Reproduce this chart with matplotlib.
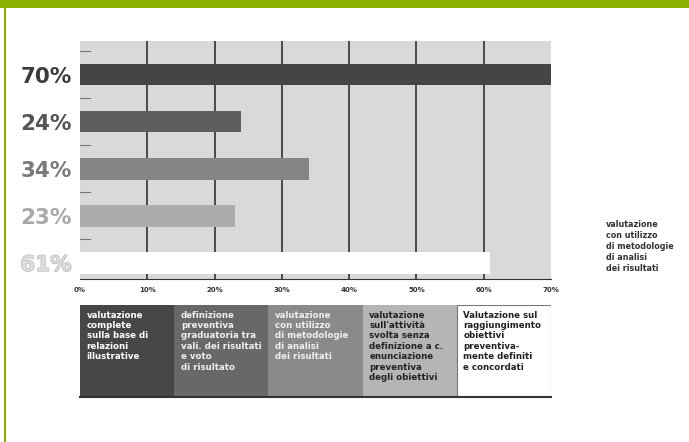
import matplotlib
matplotlib.use("Agg")
import matplotlib.pyplot as plt
from matplotlib.patches import Rectangle
import matplotlib.patheffects as pe

values = [70, 24, 34, 23, 61]
labels = ["70%", "24%", "34%", "23%", "61%"]
bar_colors = ["#454545", "#5e5e5e", "#858585", "#ababab", "#ffffff"]
label_colors = ["#3c3c3c", "#555555", "#7a7a7a", "#a8a8a8", "#dcdcdc"]
xticks = [0, 10, 20, 30, 40, 50, 60, 70]
xtick_labels = ["0%", "10%", "20%", "30%", "40%", "50%", "60%", "70%"]
box_texts = [
    "valutazione\ncomplete\nsulla base di\nrelazioni\nillustrative",
    "definizione\npreventiva\ngraduatoria tra\nvali. dei risultati\ne voto\ndi risultato",
    "valutazione\ncon utilizzo\ndi metodologie\ndi analisi\ndei risultati",
    "valutazione\nsull'attività\nsvolta senza\ndefinizione a c.\nenunciazione\npreventiva\ndegli obiettivi",
    "Valutazione sul\nraggiungimento\nobiettivi\npreventiva-\nmente definiti\ne concordati",
]
box_colors = ["#474747", "#686868", "#8a8a8a", "#b5b5b5", "#ffffff"]
box_text_colors = ["#ffffff", "#f0f0f0", "#f0f0f0", "#222222", "#222222"]
side_text = "valutazione\ncon utilizzo\ndi metodologie\ndi analisi\ndei risultati"

W, H = 689, 442
fig = plt.figure(figsize=(W / 100, H / 100), dpi=100)
fig.patch.set_facecolor("white")

# top green band and left green line
fig.add_artist(Rectangle((0, 1 - 8 / H), 1, 8 / H, transform=fig.transFigure,
                         facecolor="#8ab000", edgecolor="none"))
fig.add_artist(Rectangle((4 / W, 0), 1.5 / W, 1, transform=fig.transFigure,
                         facecolor="#8ab000", edgecolor="none"))

# main axes
x0, x1 = 80, 551
y_top, y_bot = 41, 279
ax = fig.add_axes([x0 / W, 1 - y_bot / H, (x1 - x0) / W, (y_bot - y_top) / H])
ax.set_facecolor("#d9d9d9")
pos = list(range(len(values)))
ax.barh(pos, values, height=0.45, color=bar_colors, edgecolor="none", zorder=3)
ax.set_xlim(0, 70)
ax.set_ylim(4.34, -0.72)
for x in xticks[1:-1]:
    ax.axvline(x, color="#4a4a4a", lw=1.4, zorder=2)
ax.set_xticks(xticks)
ax.set_xticklabels(xtick_labels, fontsize=5, color="#333333", fontweight="bold")
ax.set_yticks(pos)
ax.set_yticklabels(labels, fontsize=15.5, fontweight="heavy")
for t, c in zip(ax.get_yticklabels(), label_colors):
    t.set_color(c)
ax.get_yticklabels()[-1].set_path_effects([pe.withStroke(linewidth=0.8, foreground="#b0b0b0")])
ax.tick_params(axis="y", length=0, pad=6)
ax.tick_params(axis="x", length=0, pad=6)
for s in ax.spines.values():
    s.set_visible(False)
ax.spines["bottom"].set_visible(True)
ax.spines["bottom"].set_color("#333333")
ax.spines["bottom"].set_linewidth(0.8)
# small marks between bars
for p in pos:
    ax.plot([0, 1.5], [p - 0.5, p - 0.5], color="#777777", lw=0.8, zorder=2)

# boxes below
by_top, by_bot = 305, 397
bax = fig.add_axes([x0 / W, 1 - by_bot / H, (x1 - x0) / W, (by_bot - by_top) / H])
bax.set_xlim(0, len(box_texts))
bax.set_ylim(0, 1)
bax.axis("off")
for i, (txt, fc, tc) in enumerate(zip(box_texts, box_colors, box_text_colors)):
    bax.add_patch(Rectangle((i, 0), 1, 1, facecolor=fc,
                            edgecolor="#777777" if fc == "#ffffff" else fc, lw=0.8))
    bax.text(i + 0.07, 0.94, txt, ha="left", va="top", fontsize=6.2,
             color=tc, fontweight="bold", linespacing=1.2)
bax.plot([0, len(box_texts)], [0, 0], color="#333333", lw=1.5, clip_on=False)

fig.text(606 / W, 1 - 220 / H, side_text, ha="left", va="top", fontsize=5.8,
         color="#333333", fontweight="bold", linespacing=1.3)

fig.savefig("out.png", dpi=100)
